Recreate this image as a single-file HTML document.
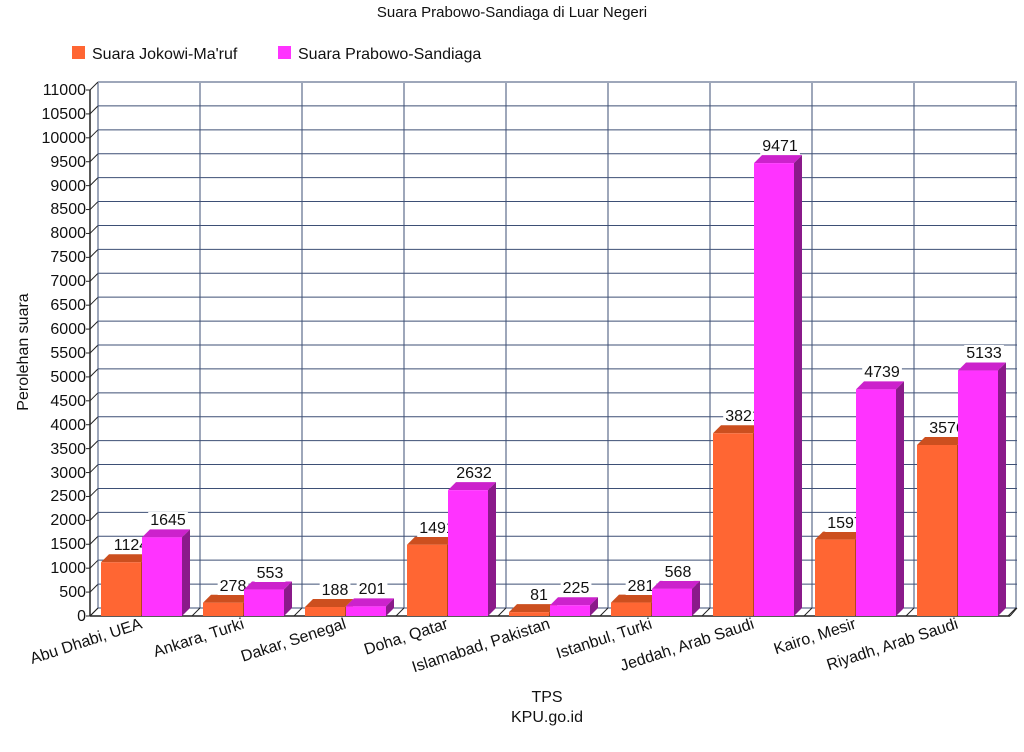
<!DOCTYPE html>
<html><head><meta charset="utf-8"><style>
body{margin:0;background:#fff}
svg{display:block;font-family:"Liberation Sans",sans-serif}
</style></head><body>
<svg id="s" width="1024" height="752" xmlns="http://www.w3.org/2000/svg">
<g id="grid"></g>
<g id="bo"></g>
<g font-size="16" fill="#111" text-anchor="middle" id="lo">
<text x="131" y="550">1124</text>
<text x="233" y="591">278</text>
<text x="335" y="595">188</text>
<text x="437" y="533">1491</text>
<text x="539" y="600">81</text>
<text x="641" y="591">281</text>
<text x="743" y="421">3821</text>
<text x="845" y="528">1597</text>
<text x="947" y="433">3576</text>
</g>
<g id="bm"></g>
<g font-size="16" fill="#111" text-anchor="middle" id="lm">
<text x="168" y="525">1645</text>
<text x="270" y="578">553</text>
<text x="372" y="594">201</text>
<text x="474" y="478">2632</text>
<text x="576" y="593">225</text>
<text x="678" y="577">568</text>
<text x="780" y="151">9471</text>
<text x="882" y="377">4739</text>
<text x="984" y="358">5133</text>
</g>
<g font-size="16" fill="#111" text-anchor="end">
<text x="86" y="621">0</text><text x="86" y="597">500</text><text x="86" y="573">1000</text><text x="86" y="549">1500</text><text x="86" y="525">2000</text><text x="86" y="501">2500</text><text x="86" y="478">3000</text><text x="86" y="454">3500</text><text x="86" y="430">4000</text><text x="86" y="406">4500</text><text x="86" y="382">5000</text><text x="86" y="358">5500</text><text x="86" y="334">6000</text><text x="86" y="310">6500</text><text x="86" y="286">7000</text><text x="86" y="262">7500</text><text x="86" y="238">8000</text><text x="86" y="214">8500</text><text x="86" y="191">9000</text><text x="86" y="167">9500</text><text x="86" y="143">10000</text><text x="86" y="119">10500</text><text x="86" y="95">11000</text>
</g>
<g font-size="16" fill="#111" text-anchor="end">
<text transform="translate(143,628) rotate(-18)">Abu Dhabi, UEA</text>
<text transform="translate(245,628) rotate(-18)">Ankara, Turki</text>
<text transform="translate(347,628) rotate(-18)">Dakar, Senegal</text>
<text transform="translate(449,628) rotate(-18)">Doha, Qatar</text>
<text transform="translate(551,628) rotate(-18)">Islamabad, Pakistan</text>
<text transform="translate(653,628) rotate(-18)">Istanbul, Turki</text>
<text transform="translate(755,628) rotate(-18)">Jeddah, Arab Saudi</text>
<text transform="translate(857,628) rotate(-18)">Kairo, Mesir</text>
<text transform="translate(959,628) rotate(-18)">Riyadh, Arab Saudi</text>
</g>
<text x="512" y="17" font-size="15" text-anchor="middle" fill="#111">Suara Prabowo-Sandiaga di Luar Negeri</text>
<rect x="72" y="46" width="13" height="13" fill="#ff6633"/>
<text x="92" y="59" font-size="16" fill="#111">Suara Jokowi-Ma'ruf</text>
<rect x="278" y="46" width="13" height="13" fill="#ff33ff"/>
<text x="298" y="59" font-size="16" fill="#111">Suara Prabowo-Sandiaga</text>
<text transform="translate(28,352) rotate(-90)" font-size="16" text-anchor="middle" fill="#111">Perolehan suara</text>
<text x="547" y="702" font-size="16" text-anchor="middle" fill="#111">TPS</text>
<text x="547" y="722" font-size="16" text-anchor="middle" fill="#111">KPU.go.id</text>
</svg>
<script>
var NS="http://www.w3.org/2000/svg";
function el(p,t,a){var e=document.createElementNS(NS,t);for(var k in a)e.setAttribute(k,a[k]);document.getElementById(p).appendChild(e);return e;}
var s=526/11000,D=8,gc="#3d4f75";
for(var i=0;i<=22;i++){var y=616-i*500*s;
 el("grid","line",{x1:98,y1:y-D,x2:1017,y2:y-D,stroke:gc,"stroke-width":1});
 el("grid","line",{x1:90,y1:y,x2:98,y2:y-D,stroke:"#222","stroke-width":1});
 el("grid","line",{x1:86,y1:y,x2:90,y2:y,stroke:"#222","stroke-width":1});}
for(var k=0;k<=9;k++){var x=98+102*k;
 el("grid","line",{x1:x,y1:83,x2:x,y2:608,stroke:gc,"stroke-width":1});
 el("grid","line",{x1:x-8,y1:616,x2:x,y2:608,stroke:"#222","stroke-width":1});}
el("grid","line",{x1:90,y1:90,x2:90,y2:616,stroke:"#222","stroke-width":1.5});
el("grid","line",{x1:90,y1:616,x2:1010,y2:616,stroke:"#222","stroke-width":1.5});
el("grid","line",{x1:1010,y1:616,x2:1017,y2:608,stroke:"#222","stroke-width":1});
var o=[1124,278,188,1491,81,281,3821,1597,3576],m=[1645,553,201,2632,225,568,9471,4739,5133];
function bar(g,x,v,f,t,sd){var y=616-v*s,w=40;
 el(g,"polygon",{points:[x,y,x+D,y-D,x+w+D,y-D,x+w,y].join(" "),fill:t});
 el(g,"polygon",{points:[x+w,y,x+w+D,y-D,x+w+D,616-D,x+w,616].join(" "),fill:sd});
 el(g,"rect",{x:x,y:y,width:w,height:616-y,fill:f});}
for(var k=0;k<9;k++){bar("bo",101+102*k,o[k],"#ff6633","#cc4f1f","#b8461a");bar("bm",142+102*k,m[k],"#ff33ff","#cc22cc","#8a1a8a");}
["lo","lm"].forEach(function(id){var g=document.getElementById(id);Array.from(g.children).forEach(function(t){var b=t.getBBox();var r=document.createElementNS(NS,"rect");r.setAttribute("x",b.x-2);r.setAttribute("y",b.y);r.setAttribute("width",b.width+4);r.setAttribute("height",b.height);r.setAttribute("fill","#fff");g.insertBefore(r,t);});});
</script>
</body></html>
